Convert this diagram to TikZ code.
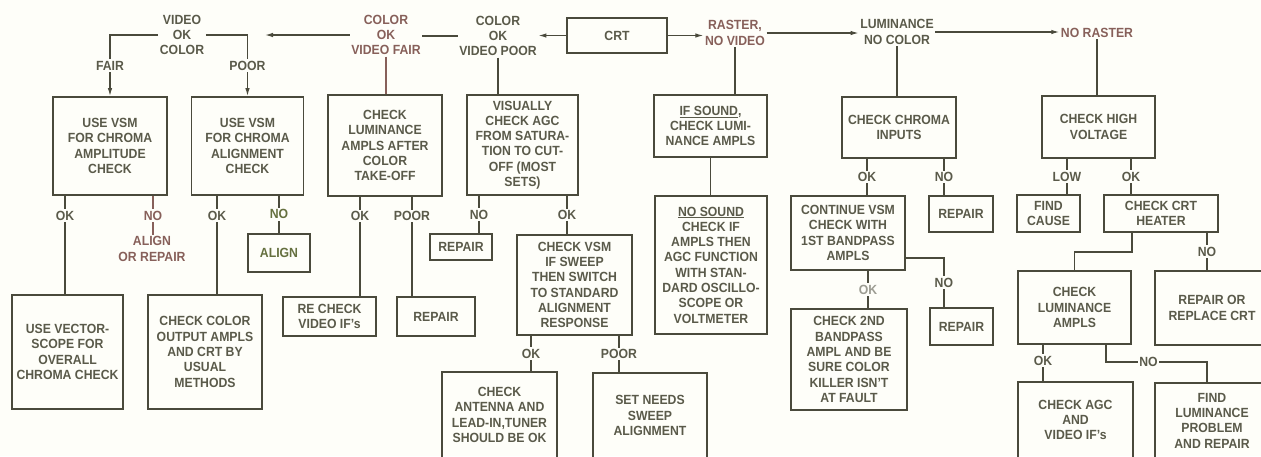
\documentclass[tikz,border=0pt]{standalone}
\usepackage{fontspec}
\setmainfont{Liberation Sans}[FakeStretch=0.92]
\usetikzlibrary{arrows.meta,calc}
\definecolor{cline}{HTML}{4A4A3C}
\definecolor{ctxt}{HTML}{5A5A4A}
\definecolor{cred}{HTML}{87605A}
\definecolor{cgrn}{HTML}{65703F}
\definecolor{cbg}{HTML}{FEFEF9}

\begin{document}
\begin{tikzpicture}[x=1pt,y=-1pt,>={Latex[length=8pt,width=4.5pt]},
  font=\fontsize{13.3}{15.3}\selectfont\bfseries,
  blk/.style 2 args={draw=cline,line width=1.8pt,text=ctxt,align=center,
    inner sep=0pt,minimum width=#1,minimum height=#2},
  ln/.style={draw=cline,line width=1.2pt},
  lbl/.style={fill=cbg,text=ctxt,inner sep=1.5pt,align=center}]
\useasboundingbox (0,0) rectangle (1261,456);
\fill[cbg] (0,0) rectangle (1261,456);
\clip (0,0) rectangle (1261,456);
% top row
\node[blk={100}{35}] (crt) at (617,35.5) {CRT};
\node[lbl] (vok) at (182,35) {VIDEO\\OK\\COLOR};
\node[lbl,text=cred] (cfair) at (386,35) {COLOR\\OK\\VIDEO FAIR};
\node[lbl] (cpoor) at (498,36) {COLOR\\OK\\VIDEO POOR};
\node[lbl,text=cred] (raster) at (735,33) {RASTER,\\NO VIDEO};
\node[lbl] (lumin) at (897,32) {LUMINANCE\\NO COLOR};
\node[lbl,text=cred] (noras) at (1097,33) {NO RASTER};
\coordinate (vtip) at (265,35);
% first level
\node[blk={114}{98}] (b1) at (110,146) {USE VSM\\FOR CHROMA\\AMPLITUDE\\CHECK};
\node[blk={112}{98}] (b2) at (247.5,146) {USE VSM\\FOR CHROMA\\ALIGNMENT\\CHECK};
\node[blk={114}{101}] (b3) at (385,145.5) {CHECK\\LUMINANCE\\AMPLS AFTER\\COLOR\\TAKE-OFF};
\node[blk={111}{100}] (b4) at (522.5,145) {VISUALLY\\CHECK AGC\\FROM SATURA-\\TION TO CUT-\\OFF (MOST\\SETS)};
\node[blk={113}{62}] (b5) at (710.5,126) {\underline{IF SOUND},\\CHECK LUMI-\\NANCE AMPLS};
\node[blk={114}{61}] (b7) at (899,127.5) {CHECK CHROMA\\INPUTS};
\node[blk={113}{62}] (b8) at (1098.5,127) {CHECK HIGH\\VOLTAGE};
% second level
\node[lbl,text=cred] (alrep) at (152,249) {ALIGN\\OR REPAIR};
\node[blk={62}{38},line width=2.4pt,text=cgrn] (align) at (279,253) {ALIGN};
\node[blk={93}{39}] (rechk) at (329.5,316.5) {RE CHECK\\VIDEO IF's};
\node[blk={78}{39}] (rep1) at (436,316.5) {REPAIR};
\node[blk={62}{26}] (rep2) at (461,247) {REPAIR};
\node[blk={115}{100}] (b20) at (574.5,285) {CHECK VSM\\IF SWEEP\\THEN SWITCH\\TO STANDARD\\ALIGNMENT\\RESPONSE};
\node[blk={112}{138}] (b6) at (711,265) {\underline{NO SOUND}\\CHECK IF\\AMPLS THEN\\AGC FUNCTION\\WITH STAN-\\DARD OSCILLO-\\SCOPE OR\\VOLTMETER};
\node[blk={114}{74}] (b9) at (848,233) {CONTINUE VSM\\CHECK WITH\\1ST BANDPASS\\AMPLS};
\node[blk={64}{36}] (rep3) at (961,214) {REPAIR};
\node[blk={63}{37}] (rep4) at (961.5,326.5) {REPAIR};
\node[blk={116}{101}] (b11) at (849,359.5) {CHECK 2ND\\BANDPASS\\AMPL AND BE\\SURE COLOR\\KILLER ISN'T\\AT FAULT};
\node[blk={63}{37}] (b12) at (1048.5,213.5) {FIND\\CAUSE};
\node[blk={114}{37}] (b13) at (1161,213.5) {CHECK CRT\\HEATER};
\node[blk={113}{73}] (b14) at (1074.5,307.5) {CHECK\\LUMINANCE\\AMPLS};
\node[blk={114}{74}] (b15) at (1212,308) {REPAIR OR\\REPLACE CRT};
% bottom row
\node[blk={111}{114}] (b18) at (67.5,352) {USE VECTOR-\\SCOPE FOR\\OVERALL\\CHROMA CHECK};
\node[blk={114}{114}] (b19) at (205,352) {CHECK COLOR\\OUTPUT AMPLS\\AND CRT BY\\USUAL\\METHODS};
\node[blk={115}{86}] (b21) at (499.5,415) {CHECK\\ANTENNA AND\\LEAD-IN,TUNER\\SHOULD BE OK};
\node[blk={114}{85}] (b22) at (650,415.5) {SET NEEDS\\SWEEP\\ALIGNMENT};
\node[blk={115}{76}] (b16) at (1075.5,420) {CHECK AGC\\AND\\VIDEO IF's};
\node[blk={114}{75}] (b17) at (1212,420.5) {FIND\\LUMINANCE\\PROBLEM\\AND REPAIR};
% top chain
\draw[ln,->] (crt.west) -- (crt.west -| cpoor.east);
\draw[ln] (cpoor.west) -- (cpoor.west -| cfair.east);
\draw[ln,->] (cfair.west) -- (vtip);
\draw[ln,->] (vok.west) -| node[pos=.75,lbl]{FAIR} (b1.north);
\draw[ln,->] (vok.east) -| node[pos=.75,lbl]{POOR} (b2.north);
\draw[ln,->] (crt.east) -- (crt.east -| raster.west);
\draw[ln,->] (raster.east) -- (raster.east -| lumin.west);
\draw[ln,->] (lumin.east) -- (lumin.east -| noras.west);
\draw[ln,draw=cred] (cfair.south) -- (cfair.south |- b3.north);
\draw[ln] (cpoor.south) -- (cpoor.south |- b4.north);
\draw[ln] (raster.south) -- (raster.south |- b5.north);
\draw[ln] (lumin.south) -- (lumin.south |- b7.north);
\draw[ln] (noras.south) -- (noras.south |- b8.north);
% branches
\draw[ln] ($(b1.south)+(-45,0)$) coordinate (k) -- node[pos=.2,lbl]{OK} (k |- b18.north);
\draw[ln,draw=cred] ($(b1.south)+(43,0)$) coordinate (k) -- node[lbl,text=cred]{NO} (k |- alrep.north);
\draw[ln] ($(b2.south)+(-30.5,0)$) coordinate (k) -- node[pos=.2,lbl]{OK} (k |- b19.north);
\draw[ln] ($(b2.south)+(31.5,0)$) coordinate (k) -- node[lbl,text=cgrn]{NO} (k |- align.north);
\draw[ln] ($(b3.south)+(-25,0)$) coordinate (k) -- node[pos=.19,lbl]{OK} (k |- rechk.north);
\draw[ln] ($(b3.south)+(27,0)$) coordinate (k) -- node[pos=.19,lbl]{POOR} (k |- rep1.north);
\draw[ln] ($(b4.south)+(-43.5,0)$) coordinate (k) -- node[lbl]{NO} (k |- rep2.north);
\draw[ln] ($(b4.south)+(44.5,0)$) coordinate (k) -- node[lbl]{OK} (k |- b20.north);
\draw[ln] ($(b20.south)+(-43.5,0)$) coordinate (k) -- node[lbl]{OK} (k |- b21.north);
\draw[ln] ($(b20.south)+(44.5,0)$) coordinate (k) -- node[lbl]{POOR} (k |- b22.north);
\draw[ln] (b5.south) -- (b5.south |- b6.north);
\draw[ln] ($(b7.south)+(-32,0)$) coordinate (k) -- node[lbl]{OK} (k |- b9.north);
\draw[ln] ($(b7.south)+(45,0)$) coordinate (k) -- node[lbl]{NO} (k |- rep3.north);
\draw[ln] ($(b9.east)+(0,25)$) -- ++(38,0) coordinate (k) -- node[lbl]{NO} (k |- rep4.north);
\draw[ln] ($(b9.south)+(20,0)$) coordinate (k) -- node[lbl,text=ctxt!60]{OK} (k |- b11.north);
\draw[ln] ($(b8.south)+(-31.5,0)$) coordinate (k) -- node[lbl]{LOW} (k |- b12.north);
\draw[ln] ($(b8.south)+(32.5,0)$) coordinate (k) -- node[lbl]{OK} (k |- b13.north);
\draw[ln] (b13.south -| b14.east) -- ++(0,19) -| (b14.north);
\draw[ln] ($(b13.south)+(46,0)$) coordinate (k) -- node[lbl]{NO} (k |- b15.north);
\draw[ln] ($(b14.south)+(-31.5,0)$) coordinate (k) -- node[pos=.43,lbl]{OK} (k |- b16.north);
\draw[ln] ($(b14.south)+(31.5,0)$) -- ++(0,17) -| node[pos=.21,lbl]{NO} ($(b17.north)+(-5,0)$);
\end{tikzpicture}
\end{document}
